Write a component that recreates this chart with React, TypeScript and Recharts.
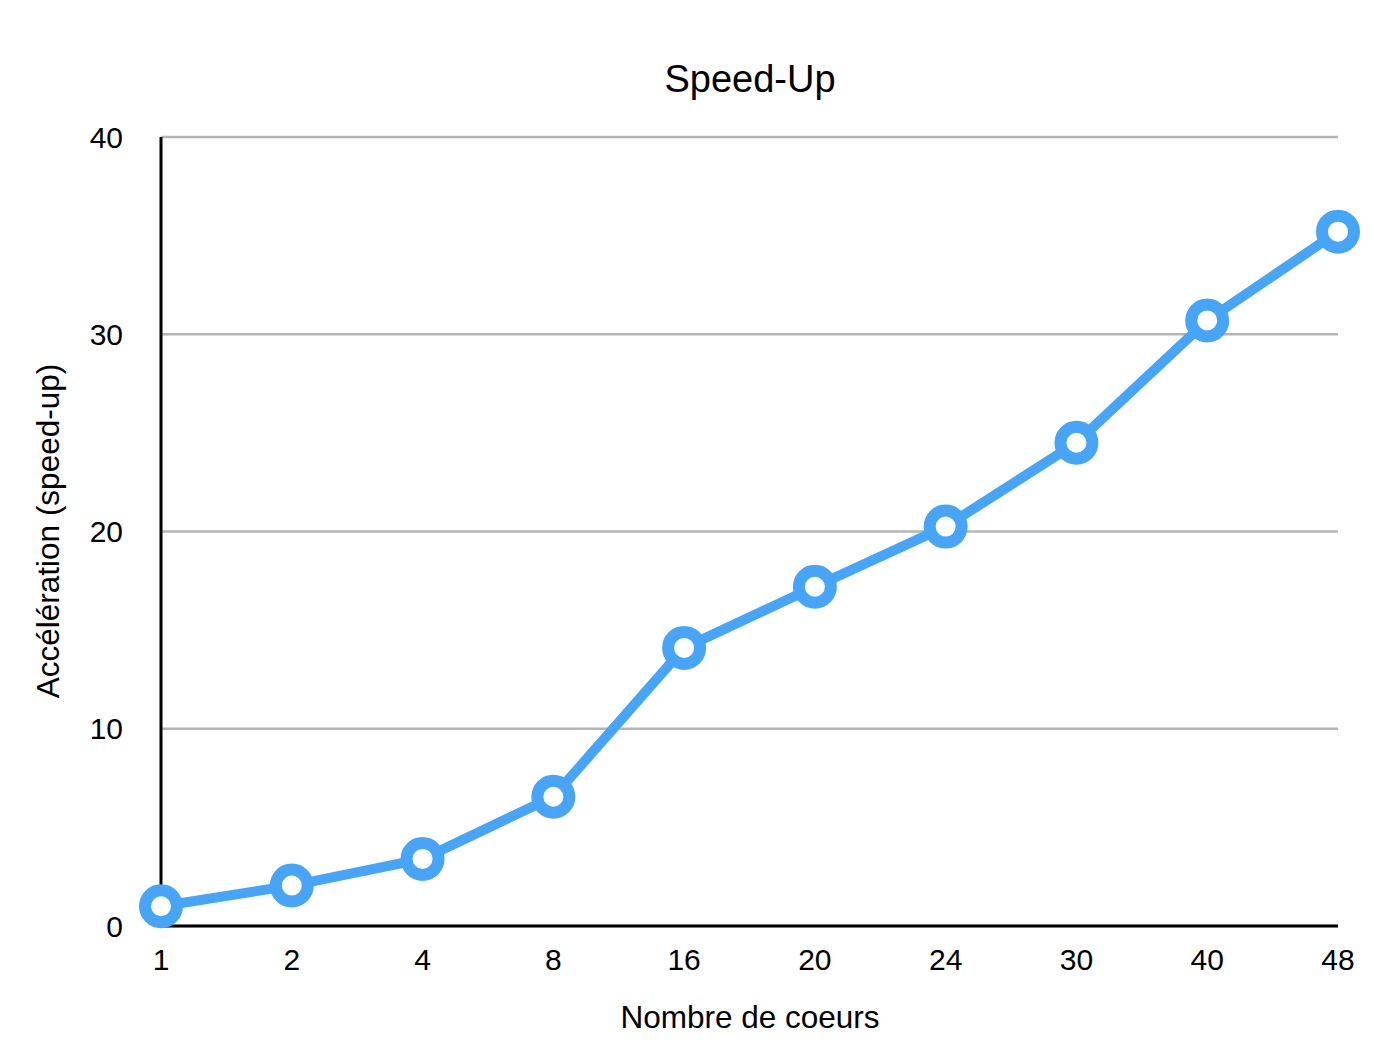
import { CartesianGrid, Customized, Line, LineChart, XAxis, YAxis } from 'recharts';

const cores = ['1', '2', '4', '8', '16', '20', '24', '30', '40', '48'];
const speedUp = [1.0, 2.05, 3.4, 6.55, 14.1, 17.2, 20.25, 24.5, 30.7, 35.2];
const yTicks = [0, 10, 20, 30, 40];

const chartTitle = 'Speed-Up';
const xTitle = 'Nombre de coeurs';
const yTitle = 'Accélération (speed-up)';

const data = cores.map((c, i) => ({ cores: c, speedUp: speedUp[i] }));

const FONT = '"Liberation Sans", Arial, Helvetica, sans-serif';
const BLUE = '#47a5f7';

const Titles = () => (
  <g fontFamily={FONT} fill="#000">
    <text x={750} y={92} fontSize={38} textAnchor="middle">
      {chartTitle}
    </text>
    <text x={750} y={1028} fontSize={31.5} textAnchor="middle">
      {xTitle}
    </text>
    <text
      x={59}
      y={531}
      fontSize={31.5}
      textAnchor="middle"
      transform="rotate(-90, 59, 531)"
    >
      {yTitle}
    </text>
  </g>
);

export default function App() {
  return (
    <div
      style={{
        position: 'absolute',
        left: 0,
        top: 0,
        width: 1396,
        height: 1064,
        background: '#fff',
      }}
    >
      <LineChart
        width={1396}
        height={1064}
        data={data}
        margin={{ top: 137, right: 58, bottom: 0, left: 0 }}
      >
        <CartesianGrid vertical={false} stroke="#b5b5b5" strokeWidth={2.5} />
        <XAxis
          dataKey="cores"
          height={138}
          interval={0}
          axisLine={{ stroke: '#000', strokeWidth: 3 }}
          tickLine={false}
          tickSize={0}
          tickMargin={23}
          tick={{ fill: '#000', fontSize: 30, fontFamily: FONT }}
        />
        <YAxis
          type="number"
          domain={[0, 40]}
          ticks={yTicks}
          width={161}
          axisLine={{ stroke: '#000', strokeWidth: 3 }}
          tickLine={false}
          tickSize={0}
          tickMargin={38}
          tick={{ fill: '#000', fontSize: 30, fontFamily: FONT }}
        />
        <Line
          dataKey="speedUp"
          stroke={BLUE}
          strokeWidth={10}
          dot={{ r: 16, fill: '#fff', stroke: BLUE, strokeWidth: 12 }}
          activeDot={false}
          isAnimationActive={false}
        />
        <Customized component={Titles} />
      </LineChart>
    </div>
  );
}
